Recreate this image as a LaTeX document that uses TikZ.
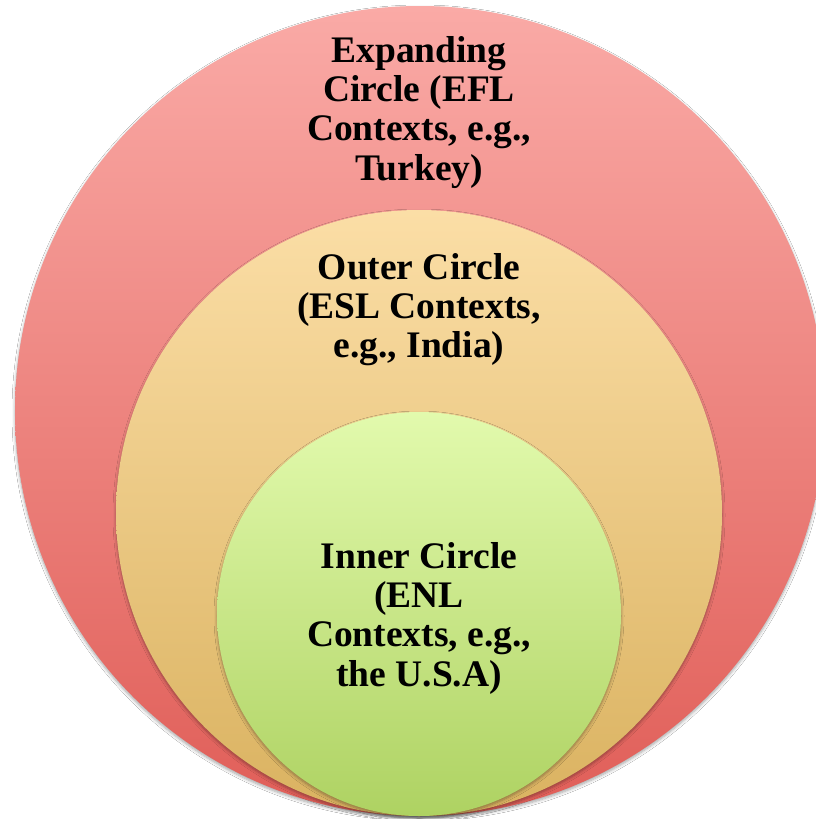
\documentclass[tikz,border=0pt]{standalone}
\usepackage{fontspec}
\setmainfont{Liberation Serif}
\usetikzlibrary{shadows.blur}
\definecolor{exTop}{RGB}{250,170,166}
\definecolor{exBot}{RGB}{224,94,88}
\definecolor{ouTop}{RGB}{251,222,166}
\definecolor{ouBot}{RGB}{218,178,96}
\definecolor{inTop}{RGB}{226,250,173}
\definecolor{inBot}{RGB}{174,210,98}
\tikzset{
  ring/.style={blur shadow={shadow xshift=0pt,shadow yshift=-2pt,shadow blur steps=6,shadow opacity=35,shadow blur radius=3pt}},
  lbl/.style={align=center,inner sep=0pt,anchor=north,text=black,
    font=\fontsize{37.5}{39.3}\selectfont\bfseries}
}
\begin{document}
\begin{tikzpicture}[x=1pt,y=-1pt]
\useasboundingbox (0,0) rectangle (816,819);
\fill[white] (0,0) rectangle (816,819);
\path[ring,top color=exTop,bottom color=exBot] (420,411) circle [radius=405pt];
\path[ring,top color=ouTop,bottom color=ouBot] (419,513) circle [radius=303pt];
\path[ring,top color=inTop,bottom color=inBot] (419,614) circle [radius=202pt];
\node[lbl] (expanding) at (419,36) {Expanding\\Circle (EFL\\Contexts, e.g.,\\Turkey)};
\node[lbl] (outer) at (419,253) {Outer Circle\\(ESL Contexts,\\e.g., India)};
\node[lbl] (inner) at (419,542) {Inner Circle\\(ENL\\Contexts, e.g.,\\the U.S.A)};
\end{tikzpicture}
\end{document}
